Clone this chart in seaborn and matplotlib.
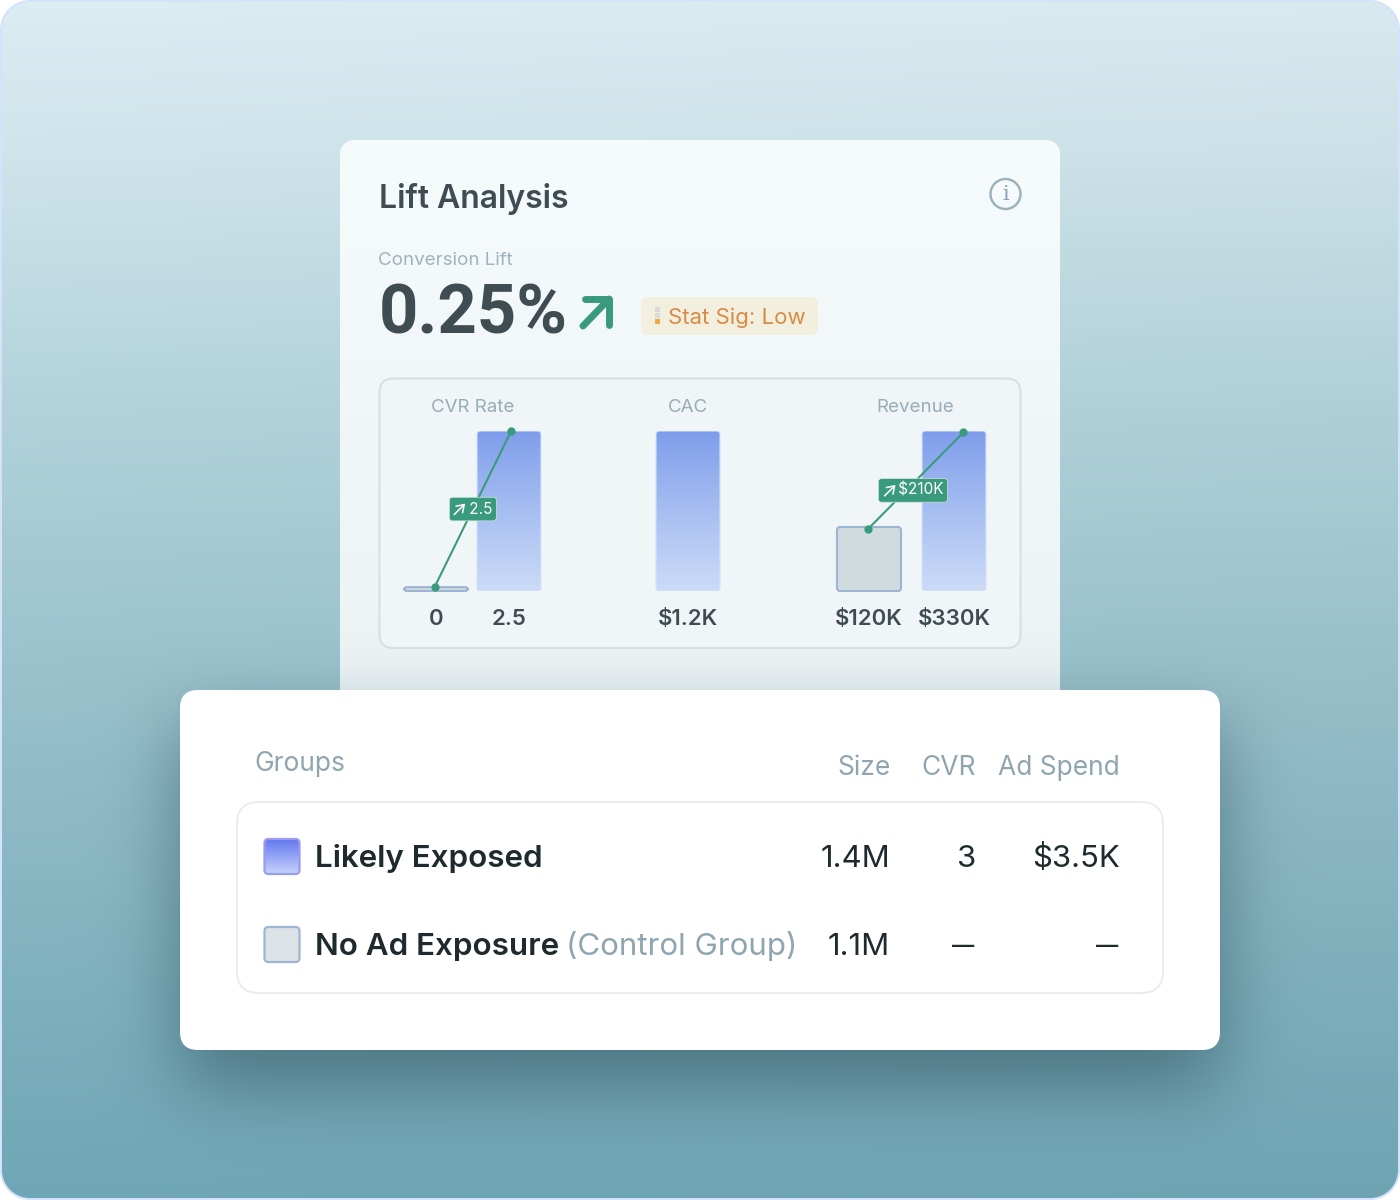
import math
import numpy as np
import pandas as pd
import seaborn as sns
import matplotlib.pyplot as plt
from matplotlib.colors import to_rgb
from matplotlib.patches import FancyBboxPatch, Circle, Rectangle

# data
cvr_labels = ['0', '2.5']
cvr_bars = [0.06, 2.5]
cvr_line_x = [-0.02, 1.03]
cvr_line_y = [0.06, 2.5]
cac_labels = ['$1.2K']
cac_bars = [1.2]
rev_labels = ['$120K', '$330K']
rev_bars = [132, 330]
rev_line_x = [-0.01, 1.11]
rev_line_y = [128, 327]

group_names = ['Likely Exposed', 'No Ad Exposure']
group_notes = ['', '(Control Group)']
group_size = ['1.4M', '1.1M']
group_cvr = ['3', '—']
group_spend = ['$3.5K', '—']

GREEN = '#3a9b7c'
MUTED = '#8fa5af'
DARK = '#3f4d52'
INK = '#1f2a2e'
W, H = 1400, 1200

sns.set_theme(style='white')
plt.rcParams['font.family'] = ['Inter', 'DejaVu Sans']


def rr_mask(x0, y0, x1, y1, r):
    # coverage of a rounded rectangle on the pixel grid
    xx, yy = np.meshgrid(np.arange(W) + .5, np.arange(H) + .5)
    qx = np.abs(xx - (x0 + x1) / 2) - ((x1 - x0) / 2 - r)
    qy = np.abs(yy - (y0 + y1) / 2) - ((y1 - y0) / 2 - r)
    d = np.hypot(np.maximum(qx, 0), np.maximum(qy, 0)) + np.minimum(np.maximum(qx, qy), 0) - r
    return np.clip(.5 - d, 0, 1)


def blur_edge(a, b, s, n):
    erf = np.vectorize(math.erf)
    t = np.arange(n) + .5
    return .5 * (erf((t - a) / (s * 2**.5)) - erf((t - b) / (s * 2**.5)))


def over(img, color, alpha):
    return img * (1 - alpha[..., None]) + np.array(color) * alpha[..., None]


def vgrad(stops):
    ys = [s[0] for s in stops]
    cols = np.array([to_rgb(s[1]) for s in stops])
    return np.stack([np.interp(np.arange(H), ys, cols[:, i]) for i in range(3)], axis=1)


# backdrop: page gradient, upper card, shadow of the table card
page = vgrad([(0, '#dcedf3'), (150, '#cfe4eb'), (400, '#b3d3dc'), (700, '#97c0cb'),
              (1000, '#7eb0bd'), (1200, '#6fa6b5')])[:, None, :] * np.ones((H, W, 3))
page = page * (1 - 0.015 * (np.arange(W) / W))[None, :, None]
card = vgrad([(140, '#f6fbfc'), (690, '#ecf3f5')])[:, None, :] * np.ones((H, W, 3))
img = page * (1 - rr_mask(340, 140, 1060, 760, 14)[..., None]) + card * rr_mask(340, 140, 1060, 760, 14)[..., None]
shadow = np.outer(blur_edge(690 + 36, 1050 + 36, 38, H), blur_edge(180, 1220, 38, W)) * 0.52
img = over(img, to_rgb('#1f3f4e'), shadow)
outer = rr_mask(0, 0, W, H, 30)
inner = rr_mask(2, 2, W - 2, H - 2, 28)
img = over(img, to_rgb('#d5e2fb'), 1 - inner)
img = over(img, (1, 1, 1), 1 - outer)

fig = plt.figure(figsize=(14, 12), dpi=100)
bg = fig.add_axes([0, 0, 1, 1], zorder=0)
bg.imshow(img, extent=[0, W, H, 0], aspect='auto', interpolation='nearest')
bg.set_xlim(0, W)
bg.set_ylim(H, 0)
bg.axis('off')


def box(x0, y0, x1, y1, r, fc, ec='none', lw=0, z=2):
    p = FancyBboxPatch((x0, y0), x1 - x0, y1 - y0, boxstyle=f'round,pad=0,rounding_size={r}',
                       fc=fc, ec=ec, lw=lw, zorder=z)
    bg.add_patch(p)
    return p


# upper card
bg.text(379, 208, 'Lift Analysis', fontsize=23, fontweight='semibold', color=DARK, va='baseline', ha='left')
bg.text(378, 265, 'Conversion Lift', fontsize=13.5, color='#a0b3bb', va='baseline', ha='left')
bg.text(379, 333, '0.25%', fontsize=49.5, fontweight='bold', family='Roboto', color=DARK, va='baseline', ha='left')
bg.add_patch(Circle((1005.5, 194), 15, fc='none', ec='#9ab0bb', lw=1.7))
bg.text(1005.5, 195, 'i', fontsize=15, family='DejaVu Serif', color='#8aa2ad', va='center', ha='center')

# big green arrow
bg.plot([583, 609], [326, 299], color=GREEN, lw=5, solid_capstyle='round')
bg.plot([585, 609, 609], [299, 299, 325], color=GREEN, lw=5, solid_capstyle='round', solid_joinstyle='round')

box(641, 297, 818, 335, 7, '#f3efdf')
for y0, c in [(307, '#d9dcd6'), (313, '#d9dcd6'), (319, '#f2a64e')]:
    bg.add_patch(Rectangle((655, y0), 5, 5, fc=c, ec='none', zorder=3))
bg.text(668, 324, 'Stat Sig: Low', fontsize=16, color='#d98a45', va='baseline', ha='left', zorder=3)

# frame around the three small charts
box(379.5, 378.5, 1020.5, 648, 14, '#f0f6f8', '#d5e0e3', 1.5, z=1)

# table card
box(180, 690, 1220, 1050, 18, 'white', z=3)
box(237, 802, 1163, 993, 22, 'white', '#e8edf0', 1.5, z=4)
bg.text(254, 771, 'Groups', fontsize=19, color=MUTED, va='baseline', ha='left', zorder=5)
for x, t in [(891, 'Size'), (976, 'CVR'), (1120, 'Ad Spend')]:
    bg.text(x, 775, t, fontsize=19, color=MUTED, va='baseline', ha='right', zorder=5)

row_y = [857, 945]
row_base = [867, 955]
swatch_fc = [None, '#dde2e6']
swatch_ec = ['#9a9bec', '#9fb5d4']


def cell(x, y, s):
    # the dashes in the table are wider and sit at mid height
    if s == '—':
        bg.text(x - 1.5, y + 1, s, fontsize=16, fontweight='semibold', color=INK, va='center', ha='right', zorder=6)
    else:
        bg.text(x, y + 10, s, fontsize=22.4, color=INK, va='baseline', ha='right', zorder=6)


for i, y in enumerate(row_y):
    sw = box(264.5, y - 18, 299.5, y + 17, 4, swatch_fc[i] or 'none', swatch_ec[i], 1.6, z=6)
    if swatch_fc[i] is None:
        g = np.linspace(0, 1, 64)[:, None, None] * (np.array(to_rgb('#c9d5fc')) - np.array(to_rgb('#6478f0'))) + np.array(to_rgb('#6478f0'))
        im = bg.imshow(g, extent=[264, 300, y + 18, y - 18], aspect='auto', zorder=5)
        im.set_clip_path(sw)
    bg.text(315, row_base[i], group_names[i], fontsize=22.6, fontweight='semibold', color=INK, va='baseline', ha='left', zorder=6)
    if group_notes[i]:
        bg.text(566, row_base[i], group_notes[i], fontsize=22.5, color=MUTED, va='baseline', ha='left', zorder=6)
    cell(890, y, group_size[i])
    cell(976, y, group_cvr[i])
    cell(1120, y, group_spend[i])
bg.set_xlim(0, W)
bg.set_ylim(H, 0)


def draw_panel(left, right, title, labels, values, bar_w, ymax, styles, title_x=0.5, top=431, bottom=591):
    ax = fig.add_axes([left / W, 1 - bottom / H, (right - left) / W, (bottom - top) / H], zorder=2)
    ax.patch.set_alpha(0)
    df = pd.DataFrame({'label': labels, 'value': values})
    sns.barplot(data=df, x='label', y='value', ax=ax, width=bar_w, color='#7d9ceb', saturation=1, errorbar=None)
    ax.set_ylim(0, ymax)
    ax.set_xlim(-0.5, len(labels) - 0.5)
    ax.set_xlabel('')
    ax.set_ylabel('')
    ax.set_yticks([])
    ax.tick_params(axis='x', length=0, pad=13, labelsize=16, labelcolor=DARK)
    ax.set_xticks(range(len(labels)), labels)
    for t in ax.get_xticklabels():
        t.set_fontweight('semibold')
    ax.set_title(title, fontsize=13.5, color='#97acb5', pad=14, x=title_x)
    sns.despine(ax=ax, left=True, bottom=True)

    # rounded look for the bars
    px_x = (right - left) / len(labels)
    px_y = (bottom - top) / ymax
    for bar, style in zip(list(ax.patches), styles):
        x0, y0, w, h = bar.get_x(), bar.get_y(), bar.get_width(), bar.get_height()
        bar.set_facecolor('none')
        bar.set_edgecolor('none')
        rad = 3 / px_x
        if style == 'grad':
            clip = FancyBboxPatch((x0, y0), w, h, boxstyle=f'round,pad=0,rounding_size={rad}',
                                  mutation_aspect=px_x / px_y, fc='none', ec='#d6e2f8', lw=0.8, zorder=3)
            ax.add_patch(clip)
            top_c, low_c = np.array(to_rgb('#7d9ceb')), np.array(to_rgb('#cbdbf7'))
            g = np.linspace(0, 1, 160)[:, None, None] ** 0.9 * (low_c - top_c) + top_c
            im = ax.imshow(g, extent=[x0, x0 + w, y0, y0 + h], aspect='auto', zorder=2)
            im.set_clip_path(clip)
        else:
            ax.add_patch(FancyBboxPatch((x0, y0), w, h, boxstyle=f'round,pad=0,rounding_size={rad}',
                                        mutation_aspect=px_x / px_y, fc='#d0dbe0', ec='#9db5d2', lw=1.5,
                                        zorder=2, clip_on=False))
    ax.set_ylim(0, ymax)
    ax.set_xlim(-0.5, len(labels) - 0.5)
    return ax


def add_link(ax, xs, ys, text, offset, arrow_dx):
    sns.lineplot(x=xs, y=ys, ax=ax, color=GREEN, lw=1.5, marker='o', markersize=6, markeredgewidth=0,
                 clip_on=False, zorder=4, errorbar=None, legend=False)
    mid = (np.mean(xs), np.mean(ys))
    ax.annotate('\u2003' + text, mid, xytext=offset, textcoords='offset points',
                ha='center', va='center', fontsize=11, color='white', zorder=6,
                bbox=dict(boxstyle='round,pad=0.28,rounding_size=0.2', fc=GREEN, ec='#cfe3dd', lw=0.5))
    # small arrow icon inside the pill, placed in figure pixels
    p = ax.transData.transform(mid) + (np.array(offset) + (arrow_dx, 0)) * 100 / 72
    ax.annotate('', xy=p + 5.5, xycoords='figure pixels', xytext=p - 5.5, textcoords='figure pixels', zorder=7,
                arrowprops=dict(arrowstyle='->,head_length=0.42,head_width=0.28', color='white', lw=1.1,
                                shrinkA=0, shrinkB=0))


ax1 = draw_panel(399.5, 545.5, 'CVR Rate', cvr_labels, cvr_bars, 64 / 73, 2.5, ['grey', 'grad'])
add_link(ax1, cvr_line_x, cvr_line_y, '2.5', (0, 0), -9.5)
ax2 = draw_panel(651.5, 724.5, 'CAC', cac_labels, cac_bars, 64 / 73, 1.2, ['grad'])
ax3 = draw_panel(826.5, 996.5, 'Revenue', rev_labels, rev_bars, 64 / 85, 330, ['grey', 'grad'], title_x=0.52)
add_link(ax3, rev_line_x, rev_line_y, '$210K', (-2, -7), -16.5)

fig.savefig('out.png', dpi=100)
